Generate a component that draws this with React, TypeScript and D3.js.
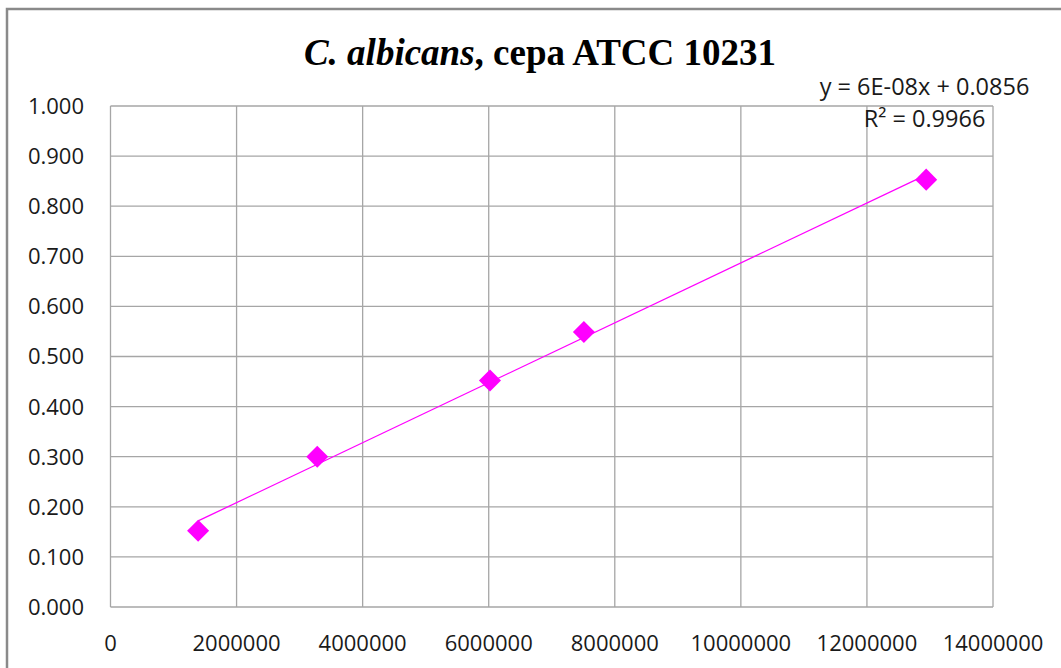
import React from "react";
import { scaleLinear, format, mean, sum, symbol, symbolDiamond2 } from "d3";

// concentración celular (cél/mL) vs absorbancia
const concentrations = [1390000, 3280000, 6020000, 7510000, 12940000];
const absorbances = [0.152, 0.3, 0.452, 0.549, 0.853];

const xTicks = [0, 2000000, 4000000, 6000000, 8000000, 10000000, 12000000, 14000000];
const yTicks = [0, 0.1, 0.2, 0.3, 0.4, 0.5, 0.6, 0.7, 0.8, 0.9, 1.0];

const equationLabel = "y = 6E-08x + 0.0856";
const r2Value = "0.9966";

const width = 1061;
const height = 668;
const plot = { left: 110.5, right: 993, top: 106, bottom: 607 };

const labelFont = "'Open Sans', 'Liberation Sans', sans-serif";
const magenta = "#ff00ff";
const gridColor = "#a6a6a6";

const App = () => {
  const xScale = scaleLinear().domain([0, 14000000]).range([plot.left, plot.right]);
  const yScale = scaleLinear().domain([0, 1]).range([plot.bottom, plot.top]);

  // linear trendline (least squares)
  const mx = mean(concentrations)!;
  const my = mean(absorbances)!;
  const sxy = sum(concentrations, (x, i) => (x - mx) * (absorbances[i] - my));
  const sxx = sum(concentrations, (x) => (x - mx) * (x - mx));
  const slope = sxy / sxx;
  const intercept = my - slope * mx;
  const x0 = concentrations[0];
  const x1 = concentrations[concentrations.length - 1];

  const diamond = symbol().type(symbolDiamond2).size(310)();
  const yFmt = format(".3f");

  return (
    <svg
      width={width}
      height={height}
      style={{ position: "absolute", left: 0, top: 0, background: "#fff" }}
    >
      <rect x={7} y={9} width={1080} height={700} fill="#fff" stroke="#8a8a8a" strokeWidth={2.5} />

      <text
        x={540}
        y={65}
        textAnchor="middle"
        fontFamily="'Liberation Serif', 'Times New Roman', serif"
        fontWeight="bold"
        fontSize={37}
        fill="#000"
      >
        <tspan fontStyle="italic">C. albicans</tspan>, cepa ATCC 10231
      </text>

      {xTicks.map((t) => (
        <line
          key={"gx" + t}
          x1={xScale(t)}
          x2={xScale(t)}
          y1={plot.top}
          y2={plot.bottom}
          stroke={gridColor}
          strokeWidth={1.3}
        />
      ))}
      {yTicks.map((t) => (
        <line
          key={"gy" + t}
          x1={plot.left}
          x2={plot.right}
          y1={yScale(t)}
          y2={yScale(t)}
          stroke={gridColor}
          strokeWidth={1.3}
        />
      ))}

      {yTicks.map((t) => (
        <text
          key={"ly" + t}
          x={84}
          y={yScale(t)}
          dy="0.36em"
          textAnchor="end"
          fontFamily={labelFont}
          fontSize={22}
          fill="#1a1a1a"
        >
          {yFmt(t)}
        </text>
      ))}
      {xTicks.map((t) => (
        <text
          key={"lx" + t}
          x={xScale(t)}
          y={651}
          textAnchor="middle"
          fontFamily={labelFont}
          fontSize={22}
          fill="#1a1a1a"
        >
          {t}
        </text>
      ))}

      <line
        x1={xScale(x0)}
        y1={yScale(slope * x0 + intercept)}
        x2={xScale(x1)}
        y2={yScale(slope * x1 + intercept)}
        stroke={magenta}
        strokeWidth={1.3}
      />

      {concentrations.map((c, i) => (
        <path
          key={"p" + i}
          d={diamond!}
          transform={`translate(${xScale(c)},${yScale(absorbances[i])})`}
          fill={magenta}
        />
      ))}

      <text x={924.5} y={95} textAnchor="middle" fontFamily={labelFont} fontSize={23.5} fill="#1a1a1a">
        {equationLabel}
      </text>
      <text x={924.5} y={127} textAnchor="middle" fontFamily={labelFont} fontSize={23.5} fill="#1a1a1a">
        R² = {r2Value}
      </text>
    </svg>
  );
};

export default App;
